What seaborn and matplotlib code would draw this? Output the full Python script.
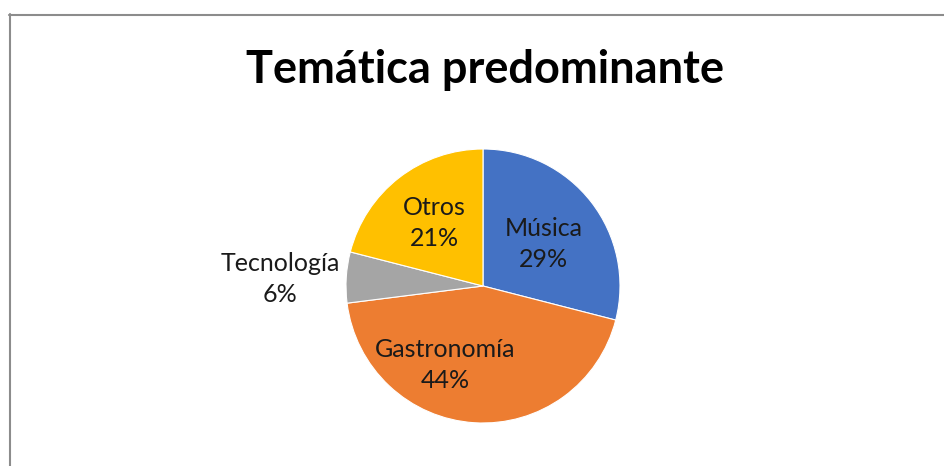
import matplotlib
matplotlib.use("Agg")
import matplotlib.pyplot as plt
import seaborn as sns
from matplotlib.lines import Line2D
import numpy as np

sns.set_theme(style="white")
plt.rcParams['font.family'] = ['Lato', 'DejaVu Sans']

categories = ["Música", "Gastronomía", "Tecnología", "Otros"]
values = [29, 44, 6, 21]
colors = ["#4472C4", "#ED7D31", "#A5A5A5", "#FFC000"]
title = "Temática predominante"

# label placement style (radius in pie units, angular shift in degrees)
label_radius = [0.54, 0.64, 1.48, 0.58]
label_shift = [-3, -22, 1.5, 0]

W, H = 944, 466
fig = plt.figure(figsize=(W / 100, H / 100), dpi=100)
fig.patch.set_facecolor("white")

cx, cy, r = 483, 180, 137
ax = fig.add_axes([(cx - r) / W, (cy - r) / H, 2 * r / W, 2 * r / H])
wedges, _ = ax.pie(values, colors=colors, startangle=90, counterclock=False,
                   wedgeprops=dict(edgecolor="white", linewidth=0.8))
ax.set_xlim(-1, 1)
ax.set_ylim(-1, 1)
ax.set_aspect("equal")
ax.axis("off")

total = sum(values)
for w, cat, v, rr, sh in zip(wedges, categories, values, label_radius, label_shift):
    mid = np.deg2rad((w.theta1 + w.theta2) / 2 + sh)
    x, y = rr * np.cos(mid), rr * np.sin(mid)
    ax.text(x, y, f"{cat}\n{round(100 * v / total)}%", ha="center", va="center",
            fontsize=18, color="#1a1a1a", linespacing=1.42, clip_on=False)

fig.text(485 / W, (H - 83) / H, title, ha="center", va="baseline",
         fontsize=32.5, fontweight="bold", color="black")

# chart border (top and left edges visible)
fig.add_artist(Line2D([9 / W, 1], [(H - 14.5) / H, (H - 14.5) / H],
                      transform=fig.transFigure, color="#8c8c8c", linewidth=1.5))
fig.add_artist(Line2D([9.5 / W, 9.5 / W], [0, (H - 14) / H],
                      transform=fig.transFigure, color="#8c8c8c", linewidth=1.5))

fig.savefig("out.png", dpi=100, facecolor="white")
